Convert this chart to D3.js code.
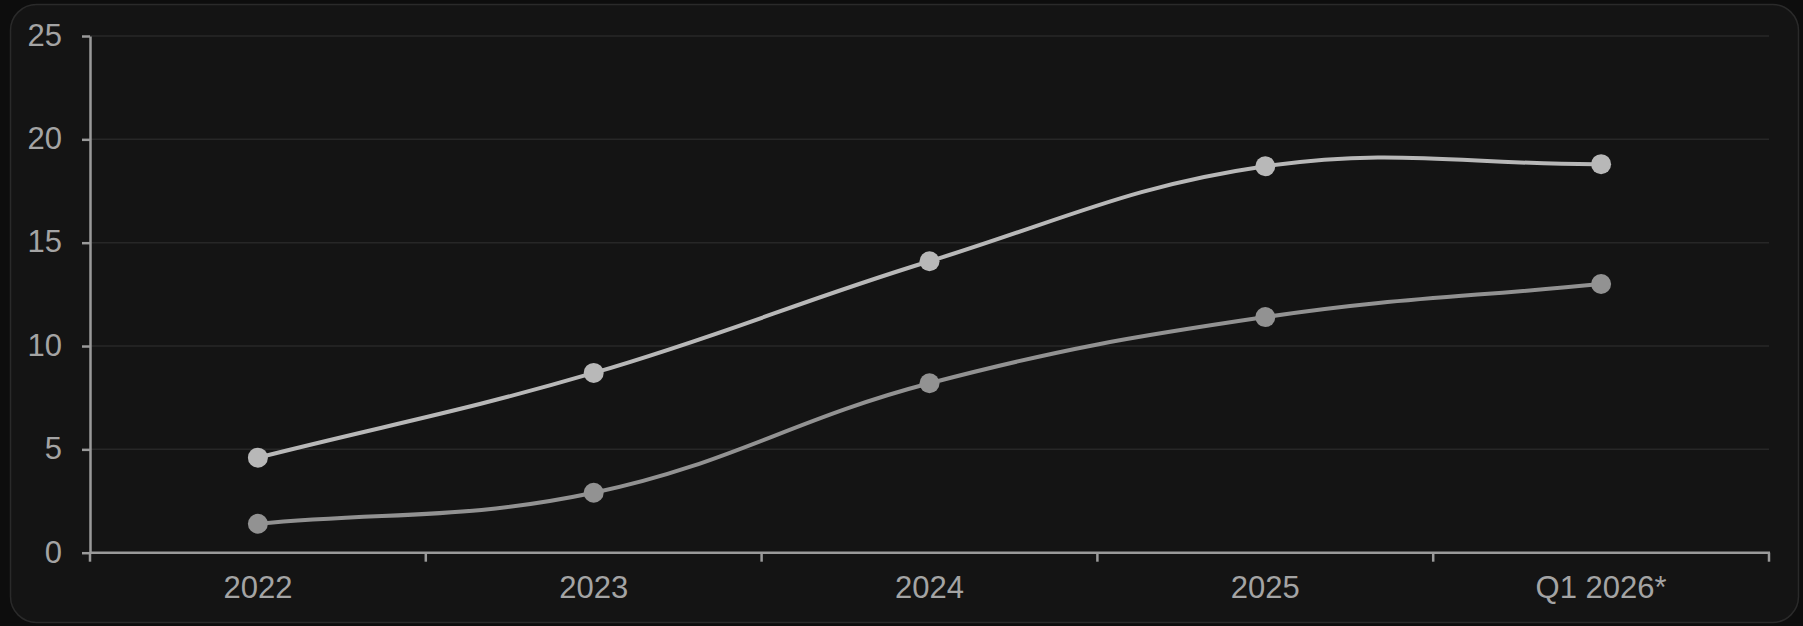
<!DOCTYPE html>
<html>
<head>
<meta charset="utf-8">
<script src="https://cdn.jsdelivr.net/npm/d3@7"></script>
<style>
  html, body { margin: 0; padding: 0; background: #0d0d0d; }
  svg { display: block; }
</style>
</head>
<body>
<svg id="chart" width="1803" height="626"></svg>
<script>
const categories = ["2022", "2023", "2024", "2025", "Q1 2026*"];
const seriesUpper = [4.6, 8.7, 14.1, 18.7, 18.8];
const seriesLower = [1.4, 2.9, 8.2, 11.4, 13.0];
const yTicks = [0, 5, 10, 15, 20, 25];

(function () {
const svg = d3.select("#chart");

// card
svg.append("rect")
  .attr("x", 10.5).attr("y", 4.5)
  .attr("width", 1788).attr("height", 618)
  .attr("rx", 26).attr("ry", 26)
  .attr("fill", "#141414")
  .attr("stroke", "#2a2a2a").attr("stroke-width", 1.5);

const mLeft = 90, mRight = 1769, mTop = 36, mBottom = 552.7;

const x = d3.scaleBand().domain(categories).range([mLeft, mRight]).padding(0);
const y = d3.scaleLinear().domain([0, 25]).range([mBottom, mTop]);

// grid lines
svg.append("g").selectAll("line")
  .data(yTicks.filter(d => d !== 0))
  .join("line")
  .attr("x1", mLeft).attr("x2", mRight)
  .attr("y1", d => y(d)).attr("y2", d => y(d))
  .attr("stroke", "#272727").attr("stroke-width", 1.5);

const fontFamily = "'Liberation Sans', Arial, sans-serif";

// y axis
const yAxis = svg.append("g")
  .attr("transform", `translate(${mLeft},0)`)
  .call(d3.axisLeft(y).tickValues(yTicks).tickSize(8).tickSizeOuter(0).tickPadding(20));
yAxis.select(".domain").attr("stroke", "#9a9a9a").attr("stroke-width", 2.5);
yAxis.selectAll(".tick line").attr("stroke", "#9a9a9a").attr("stroke-width", 2.5);
yAxis.selectAll(".tick text")
  .attr("fill", "#a4a4a4")
  .style("font-family", fontFamily)
  .style("font-size", "31px")
  .attr("dy", "0.3em");

// x axis: ticks at band boundaries
const boundaries = categories.map(c => x(c)).concat([mRight]);
const xAxisG = svg.append("g").attr("transform", `translate(0,${mBottom})`);
xAxisG.append("line")
  .attr("x1", mLeft).attr("x2", mRight + 1)
  .attr("y1", 0).attr("y2", 0)
  .attr("stroke", "#9a9a9a").attr("stroke-width", 2.5);
xAxisG.selectAll("line.tk")
  .data(boundaries)
  .join("line")
  .attr("class", "tk")
  .attr("x1", d => d).attr("x2", d => d)
  .attr("y1", 0).attr("y2", 9)
  .attr("stroke", "#9a9a9a").attr("stroke-width", 2.5);
xAxisG.selectAll("text")
  .data(categories)
  .join("text")
  .attr("x", d => x(d) + x.bandwidth() / 2)
  .attr("y", 45)
  .attr("text-anchor", "middle")
  .attr("fill", "#a4a4a4")
  .style("font-family", fontFamily)
  .style("font-size", "31px")
  .text(d => d);

// Chart.js-like spline curve (tension 0.4)
function chartSpline(context) {
  let pts = [];
  const tension = 0.4;
  return {
    areaStart() {}, areaEnd() {},
    lineStart() { pts = []; },
    point(px, py) { pts.push([px, py]); },
    lineEnd() {
      const n = pts.length;
      if (!n) return;
      const cps = pts.map((p, i) => {
        const prev = pts[i - 1] || p, next = pts[i + 1] || p;
        const d01 = Math.hypot(p[0] - prev[0], p[1] - prev[1]);
        const d12 = Math.hypot(next[0] - p[0], next[1] - p[1]);
        let s01 = d01 / (d01 + d12), s12 = d12 / (d01 + d12);
        s01 = isNaN(s01) ? 0 : s01; s12 = isNaN(s12) ? 0 : s12;
        const fa = tension * s01, fb = tension * s12;
        return {
          prev: [p[0] - fa * (next[0] - prev[0]), p[1] - fa * (next[1] - prev[1])],
          next: [p[0] + fb * (next[0] - prev[0]), p[1] + fb * (next[1] - prev[1])]
        };
      });
      context.moveTo(pts[0][0], pts[0][1]);
      for (let i = 1; i < n; i++) {
        context.bezierCurveTo(cps[i - 1].next[0], cps[i - 1].next[1],
          cps[i].prev[0], cps[i].prev[1], pts[i][0], pts[i][1]);
      }
    }
  };
}

const line = d3.line()
  .x((d, i) => x(categories[i]) + x.bandwidth() / 2)
  .y(d => y(d))
  .curve(chartSpline);

const series = [
  { values: seriesLower, color: "#929292" },
  { values: seriesUpper, color: "#b8b8b8" }
];

series.forEach(s => {
  svg.append("path")
    .datum(s.values)
    .attr("d", line)
    .attr("fill", "none")
    .attr("stroke", s.color)
    .attr("stroke-width", 4);
  svg.append("g").selectAll("circle")
    .data(s.values)
    .join("circle")
    .attr("cx", (d, i) => x(categories[i]) + x.bandwidth() / 2)
    .attr("cy", d => y(d))
    .attr("r", 10)
    .attr("fill", s.color);
});
})();
</script>
</body>
</html>
